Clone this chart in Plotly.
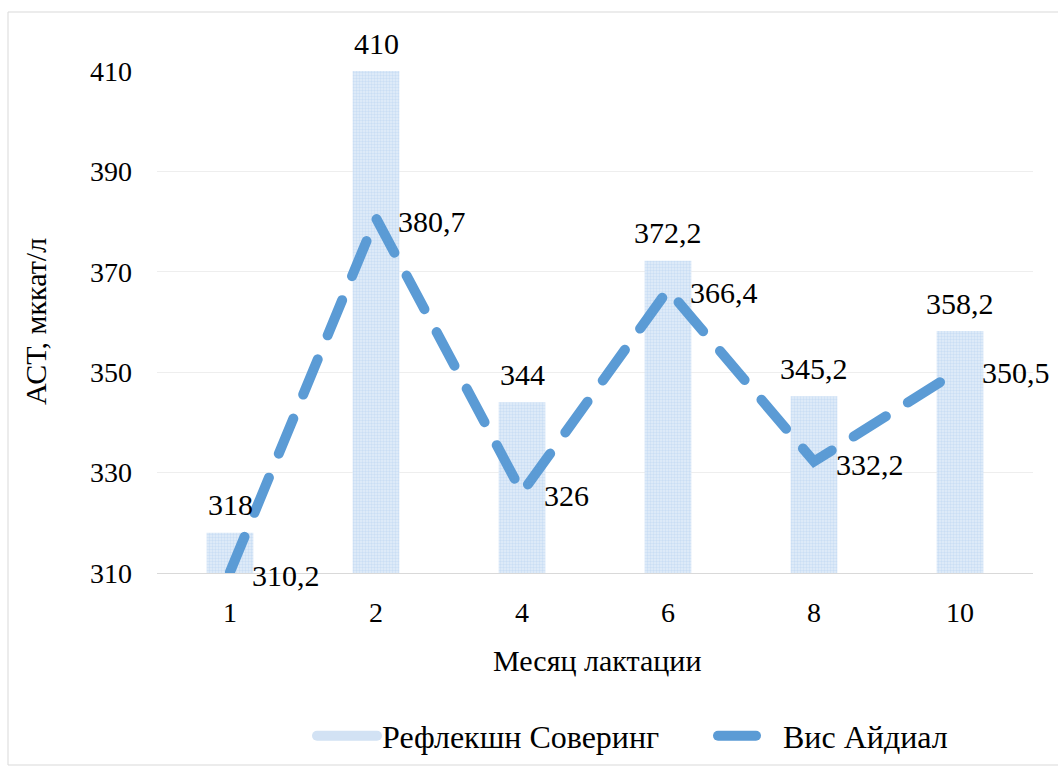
import plotly.graph_objects as go

months = ["1", "2", "4", "6", "8", "10"]
reflection = [318, 410, 344, 372.2, 345.2, 358.2]
vis = [310.2, 380.7, 326, 366.4, 332.2, 350.5]
reflection_labels = ["318", "410", "344", "372,2", "345,2", "358,2"]
vis_labels = ["310,2", "380,7", "326", "366,4", "332,2", "350,5"]
yticks = [310, 330, 350, 370, 390, 410]

FONT = "Liberation Serif, Times New Roman, serif"
FS = 30
idx = list(range(len(months)))

fig = go.Figure()
fig.add_trace(go.Bar(
    x=idx, y=[v - 310 for v in reflection], base=310,
    name="Рефлекшн Соверинг", showlegend=False,
    width=0.32,
    marker=dict(color="#d2e2f4",
                pattern=dict(shape=".", fgcolor="#b0cdef", bgcolor="#e4eef9", size=3, solidity=0.5),
                line=dict(width=0)),
    hoverinfo="skip",
))
# legend swatch for bars
fig.add_trace(go.Scatter(
    x=[None], y=[None], mode="lines", name="Рефлекшн Соверинг",
    line=dict(color="#d2e2f4", width=14),
))
fig.add_trace(go.Scatter(
    x=idx, y=vis, mode="lines", name="Вис Айдиал",
    line=dict(color="#5b9bd5", width=10, dash="38px,26px"),
    cliponaxis=False, hoverinfo="skip",
))
for i, v, t in zip(idx, reflection, reflection_labels):
    fig.add_annotation(x=i, y=v, text=t, showarrow=False, xanchor="center", yanchor="middle",
                       yshift=28, font=dict(family=FONT, size=FS, color="black"))
for i, v, t in zip(idx, vis, vis_labels):
    fig.add_annotation(x=i, y=v, text=t, showarrow=False, xanchor="left",
                       xshift=20, yshift=-3,
                       font=dict(family=FONT, size=FS, color="black"))

fig.add_annotation(xref="paper", yref="paper", x=-122/876, y=0.5, text="АСТ, мккат/л",
                   textangle=-90, showarrow=False, xanchor="center", yanchor="middle",
                   font=dict(family=FONT, size=FS, color="black"))
fig.add_annotation(xref="paper", yref="paper", x=(597 - 157) / 876, y=-87/502, text="Месяц лактации",
                   showarrow=False, xanchor="center", yanchor="middle",
                   font=dict(family=FONT, size=FS, color="black"))

fig.add_shape(type="rect", xref="paper", yref="paper",
              x0=-149/876, x1=1017/876, y0=(573 - 765) / 502, y1=(573 - 12) / 502,
              line=dict(color="#d9d9d9", width=1), layer="below")

fig.update_layout(
    width=1058, height=774,
    margin=dict(l=157, r=25, t=71, b=201, autoexpand=False),
    paper_bgcolor="white", plot_bgcolor="white",
    font=dict(family=FONT, size=FS, color="black"),
    showlegend=True,
    legend=dict(orientation="h", x=(312 - 157) / 876, xanchor="left", y=-163/502, yanchor="middle",
                font=dict(family=FONT, size=32, color="black"), itemwidth=60,
                entrywidth=326, entrywidthmode="pixels",
                traceorder="normal"),
    xaxis=dict(range=[-0.5, 5.5], tickvals=idx, ticktext=months, showgrid=False,
               showline=True, linecolor="#d9d9d9", zeroline=False,
               tickfont=dict(size=28),
               ticks="", ticklabelstandoff=14, automargin=False),
    yaxis=dict(range=[310, 410], tickvals=yticks, showgrid=True, gridcolor="#eeeeee",
               zeroline=False, showline=False, ticks="", ticklabelstandoff=24,
               tickfont=dict(size=28),
               automargin=False),
)

post = """
document.body.style.margin='0';
document.documentElement.style.margin='0';
var s = document.querySelectorAll('.scatterlayer path.js-line, .legendlines path');
s.forEach(function(p){p.style.strokeLinecap='round';});
"""
fig.write_html("out.html", post_script=post, config={"displayModeBar": False})
